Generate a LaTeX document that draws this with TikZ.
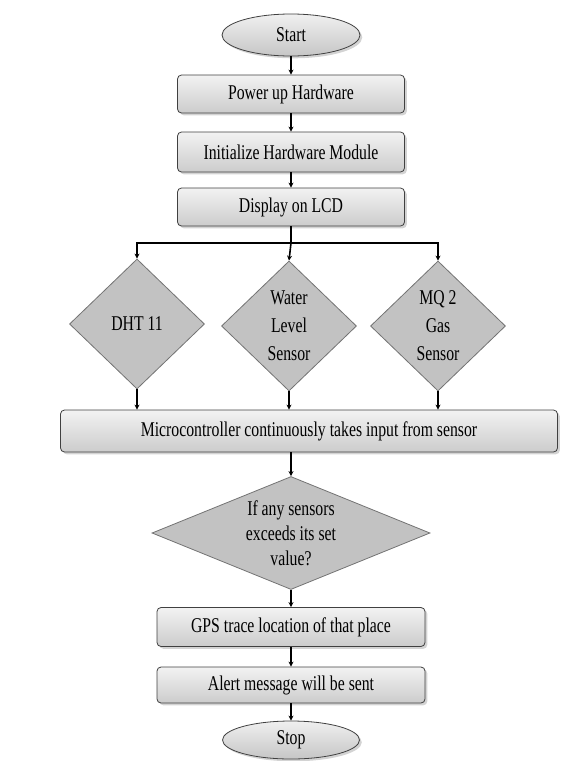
\documentclass[tikz,border=0pt]{standalone}
\usepackage{fontspec}
\setmainfont{Liberation Serif}[FakeStretch=0.75]
\usetikzlibrary{shapes.geometric,arrows.meta,shadows}
\begin{document}
\begin{tikzpicture}
		[	x=1pt,y=-1pt,
		term/.style={ellipse,draw=black!75,thick,top color=gray!12,bottom color=gray!45,minimum width=138pt,minimum height=42pt,font=\fontsize{21}{26}\selectfont,drop shadow={opacity=.35}},
		box/.style={rectangle,rounded corners=4pt,draw=black!75,thick,top color=gray!10,bottom color=gray!40,minimum height=38pt,font=\fontsize{21}{26}\selectfont,drop shadow={opacity=.35}},
		sensor/.style={diamond,draw=black!55,thick,fill=gray!48,aspect=1,inner sep=0pt,minimum width=135pt,minimum height=130pt,align=center,font=\fontsize{21}{28}\selectfont},
		flow/.style={line width=1.6pt,-{Stealth[length=5pt,width=5pt]}}
		]
		\useasboundingbox (0,0) rectangle (571,761);
		\node[term] (start) at (291,35){Start};
		\node[box,minimum width=227pt] (power) at (291,94){Power up Hardware};
		\node[box,minimum width=227pt,minimum height=40pt] (init) at (291,152){Initialize Hardware Module};
		\node[box,minimum width=227pt] (lcd) at (291,207){Display on LCD};

\node[sensor] (dht) at (137,324){DHT 11};
\node[sensor] (water) at (289,326){Water\\Level\\Sensor};
\node[sensor] (gas) at (438,326){MQ 2\\Gas\\Sensor};

\node[box,minimum width=497pt,minimum height=42pt] (micro) at (309,431){Microcontroller continuously takes input from sensor};
\node[sensor,aspect=2.46,minimum width=278pt,minimum height=113pt,font=\fontsize{21}{25}\selectfont] (check) at (291,533){If any sensors\\exceeds its set\\value?};
\node[box,minimum width=268pt,minimum height=39pt] (gps) at (291,627){GPS trace location of that place};
\node[box,minimum width=268pt,minimum height=36pt] (alert) at (291,685){Alert message will be sent};
\node[term,minimum width=137pt,minimum height=38pt] (stop) at (291,740){Stop};

		\coordinate (split) at (291,243);
		\draw[flow] (start) -- (power);
		\draw[flow] (power) -- (init);
		\draw[flow] (init) -- (lcd);
		\draw[line width=1.6pt] (lcd) -- (split);
		\draw[flow] (split) -| (dht.north);
		\draw[flow] (split) -| (gas.north);
		\draw[flow] (split) -- (water.north);
		\draw[flow] (dht.south) -- (dht.south |- micro.north);
		\draw[flow] (water.south) -- (water.south |- micro.north);
		\draw[flow] (gas.south) -- (gas.south |- micro.north);
		\draw[flow] (check.north |- micro.south) -- (check.north);
		\draw[flow] (check) -- (gps);
		\draw[flow] (gps) -- (alert);
		\draw[flow] (alert) -- (stop);
	\end{tikzpicture}
\end{document}
